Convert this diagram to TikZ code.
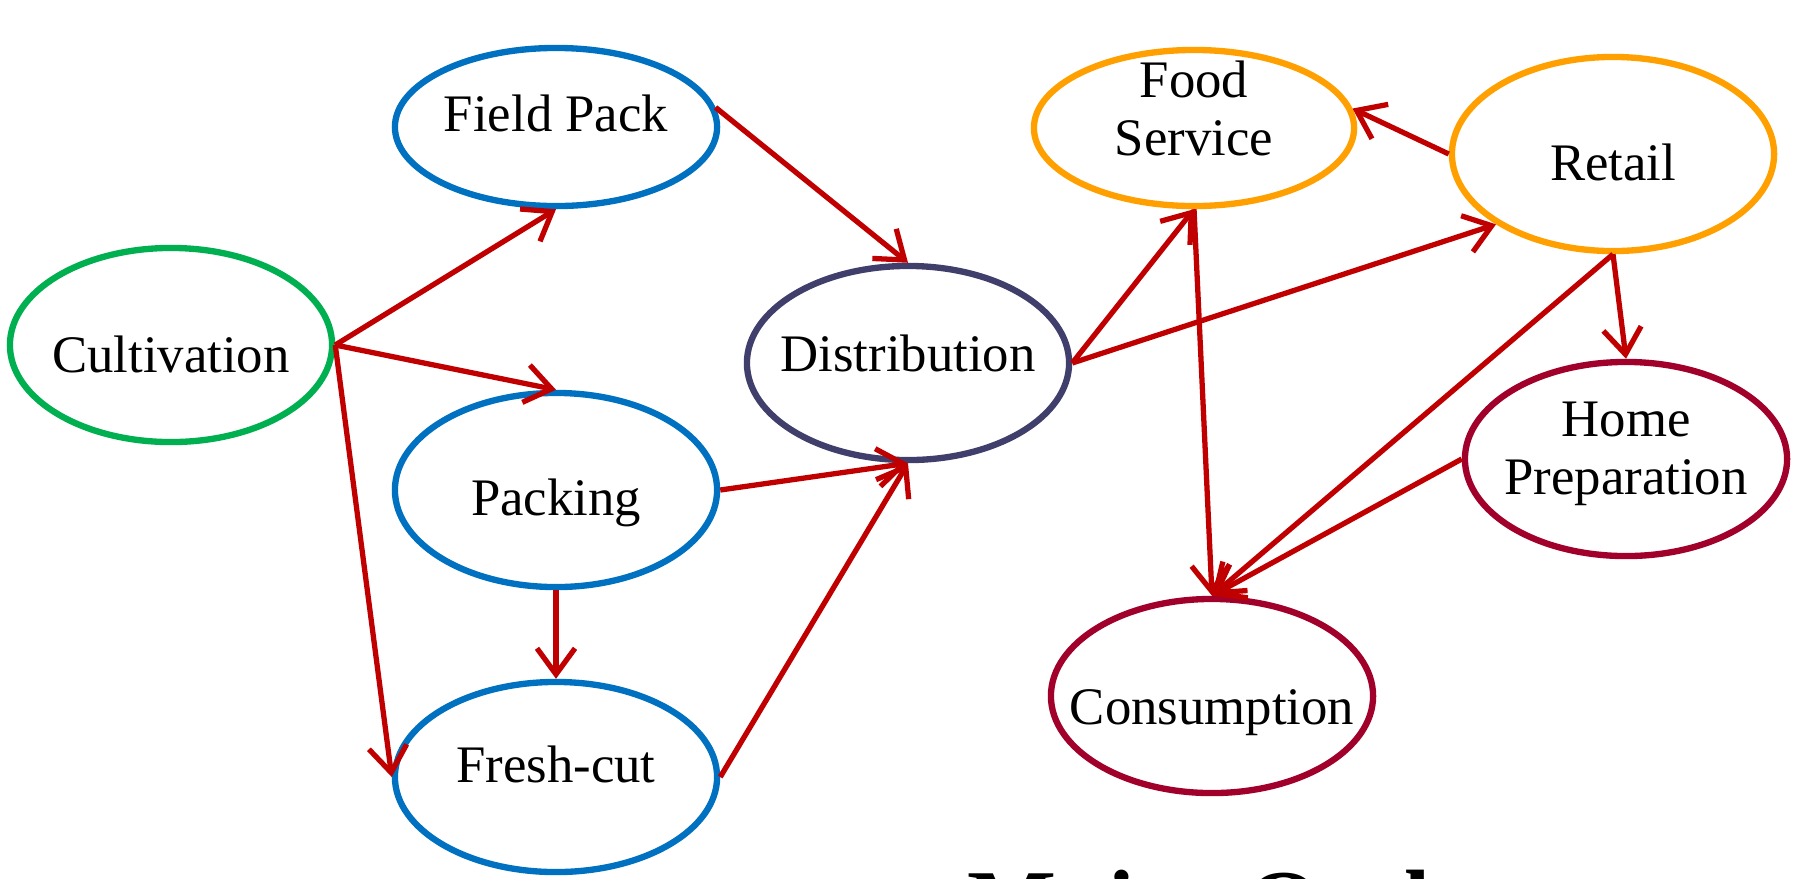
\documentclass[tikz,border=0pt]{standalone}
\usepackage{fontspec}
\setmainfont{Liberation Serif}
\usepackage{xcolor}
\usetikzlibrary{arrows.meta,shapes.geometric}

\definecolor{cultgreen}{RGB}{0,176,80}
\definecolor{procblue}{RGB}{0,112,192}
\definecolor{distnavy}{RGB}{64,62,106}
\definecolor{outorange}{RGB}{255,160,0}
\definecolor{endred}{RGB}{160,0,42}
\definecolor{flowred}{RGB}{192,0,0}

% text of a stage, lifted by #1 inside its ellipse
\newcommand{\stagetext}[2]{\raisebox{#1}[0.3cm][0.1cm]{\begin{tabular}{@{}c@{}}#2\end{tabular}}}

\tikzset{
  stage/.style={ellipse, draw, line width=1.8pt, minimum width=3.22cm, minimum height=1.94cm,
    inner xsep=-0.3cm, inner ysep=0pt, align=center, font=\fontsize{15}{16.5}\selectfont},
  flow/.style={draw=flowred, line width=1.5pt, -{Straight Barb[length=2.6mm,width=3.8mm,line width=1.5pt]}}
}

\begin{document}
\begin{tikzpicture}[x=0.01cm, y=-0.01cm]
    % Fix the page size
    \useasboundingbox (0,0) rectangle (1794,878);
    \clip (0,0) rectangle (1794,878);

    % Draw the stages
    \node[stage, draw=cultgreen] (cult) at (171,345) {\stagetext{-0.19cm}{Cultivation}};
    \node[stage, draw=procblue, minimum height=1.58cm] (field) at (556,127) {\stagetext{0.04cm}{Field Pack}};
    \node[stage, draw=procblue] (pack) at (556,490) {\stagetext{-0.17cm}{Packing}};
    \node[stage, draw=procblue, minimum height=1.90cm] (fresh) at (556,777) {\stagetext{0.03cm}{Fresh-cut}};
    \node[stage, draw=distnavy] (dist) at (908,363) {\stagetext{0cm}{Distribution}};
    \node[stage, draw=outorange, minimum width=3.2cm, minimum height=1.56cm] (food) at (1194,128) {\stagetext{0.10cm}{Food\\Service}};
    \node[stage, draw=outorange] (retail) at (1613,154) {\stagetext{-0.18cm}{Retail}};
    \node[stage, draw=endred] (home) at (1626,459) {\stagetext{0.02cm}{Home\\Preparation}};
    \node[stage, draw=endred] (cons) at (1212,696) {\stagetext{-0.20cm}{Consumption}};

    % Draw the flows
    \draw[flow] (cult.east) -- (field.south);
    \draw[flow] (cult.east) -- (pack.north);
    \draw[flow] (cult.east) -- (fresh.west);
    \draw[flow] (field.7) -- (dist.north);
    \draw[flow] (pack.east) -- (dist.south);
    \draw[flow] (pack.south) -- (fresh.north);
    \draw[flow] (fresh.east) -- (dist.south);
    \draw[flow] (dist.east) -- (food.south);
    \draw[flow] (dist.east) -- (retail.211);
    \draw[flow] (retail.west) -- (food.7);
    \draw[flow] (food.south) -- (cons.north);
    \draw[flow] (retail.south) -- (home.north);
    \draw[flow] (retail.south) -- (cons.north);
    \draw[flow] (home.west) -- (cons.north);

    % Add the title, cut by the page edge
    \node[anchor=base west, inner sep=0pt, font=\fontsize{26.8}{30}\selectfont\bfseries] (title) at (967,935) {Major Outlets};
\end{tikzpicture}
\end{document}
